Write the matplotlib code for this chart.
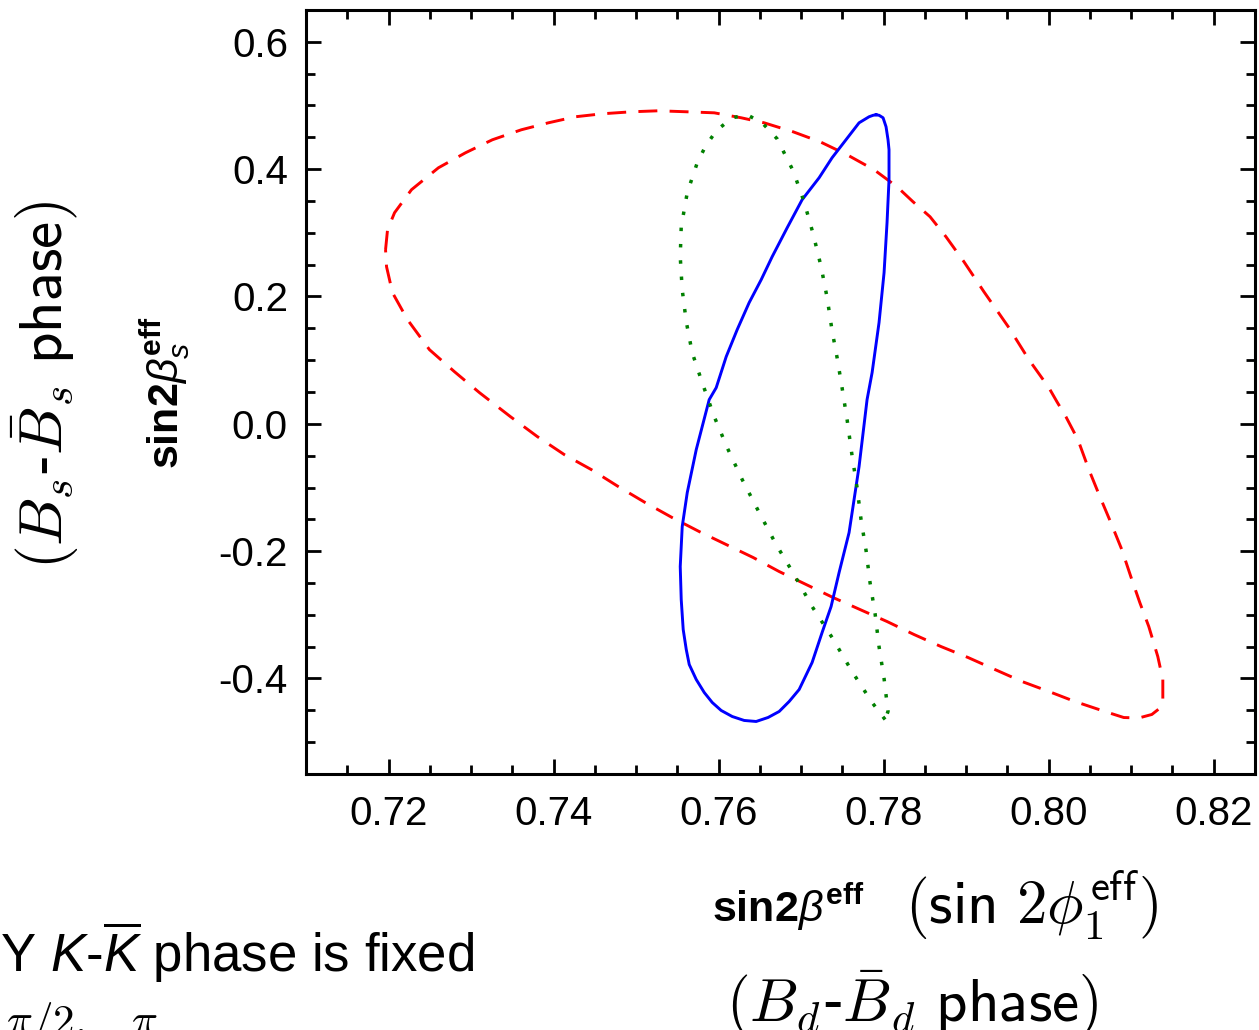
import matplotlib
matplotlib.use("Agg")
import matplotlib.pyplot as plt
from matplotlib.ticker import MultipleLocator, FormatStrFormatter

plt.rcParams['font.family'] = ['Liberation Sans', 'DejaVu Sans']
plt.rcParams['mathtext.fontset'] = 'custom'
plt.rcParams['mathtext.rm'] = 'Liberation Sans'
plt.rcParams['mathtext.it'] = 'Liberation Sans:italic'
plt.rcParams['mathtext.bf'] = 'Liberation Sans:bold'
plt.rcParams['axes.unicode_minus'] = False

# Dashed curve (red)
red_x = [0.71964, 0.71988, 0.72073, 0.72278, 0.72605, 0.72932, 0.73259, 0.73610,
         0.73937, 0.74264, 0.74591, 0.74942, 0.75269, 0.75620, 0.75947, 0.76274,
         0.76552, 0.76903, 0.77230, 0.77557, 0.77884, 0.78162, 0.78356, 0.78562,
         0.78755, 0.78973, 0.79215, 0.79518, 0.79760, 0.80002, 0.80099, 0.80208,
         0.80354, 0.80487, 0.80620, 0.80753, 0.80886, 0.80995, 0.81104, 0.81213,
         0.81322, 0.81383, 0.81383, 0.81358, 0.81250, 0.81092, 0.80910, 0.80680,
         0.80317, 0.80002,
         0.79676, 0.79349, 0.79022, 0.78695, 0.78368, 0.78041, 0.77714, 0.77387,
         0.77061, 0.76734, 0.76419, 0.76092, 0.75765, 0.75438, 0.75111, 0.74785,
         0.74458, 0.74131, 0.73804, 0.73477, 0.73102, 0.72799, 0.72496, 0.72230,
         0.72048, 0.71976]
red_y = [0.2735, 0.3049, 0.3316, 0.3677, 0.4022, 0.4257, 0.4462, 0.4619,
         0.4728, 0.4823, 0.4870, 0.4901, 0.4917, 0.4901, 0.4885, 0.4807,
         0.4728, 0.4587, 0.4430, 0.4226, 0.3991, 0.3724, 0.3488, 0.3253,
         0.2939, 0.2546, 0.2075, 0.1510, 0.1008, 0.0568, 0.0349, 0.0113,
         -0.0248, -0.0719, -0.1143, -0.1551, -0.1975, -0.2399, -0.2807, -0.3184,
         -0.3655, -0.4016, -0.4330, -0.4455, -0.4565, -0.4620, -0.4613, -0.4518,
         -0.4361, -0.4204,
         -0.4047, -0.3859, -0.3670, -0.3498, -0.3309, -0.3105, -0.2917, -0.2728,
         -0.2524, -0.2320, -0.2100, -0.1896, -0.1692, -0.1473, -0.1237, -0.0986,
         -0.0719, -0.0484, -0.0201, 0.0113, 0.0490, 0.0819, 0.1165, 0.1636,
         0.2060, 0.2468]

# Solid curve (blue)
blue_x = [0.77908, 0.77945, 0.77993, 0.78029, 0.78053, 0.78065, 0.78065, 0.78041,
          0.78005, 0.77944, 0.77860, 0.77799, 0.77702, 0.77581, 0.77460, 0.77363,
          0.77254, 0.77133, 0.76976, 0.76855, 0.76734, 0.76600, 0.76455, 0.76310,
          0.76165, 0.76031, 0.75923, 0.75826, 0.75729, 0.75644, 0.75608, 0.75571,
          0.75547, 0.75535, 0.75559, 0.75620, 0.75729, 0.75886, 0.75971, 0.76092,
          0.76225, 0.76370, 0.76516, 0.76649, 0.76831, 0.77012, 0.77218, 0.77375,
          0.77702, 0.77823, 0.77872]
blue_y = [0.4854, 0.4846, 0.4807, 0.4666, 0.4462, 0.4305, 0.3834, 0.3159,
          0.2374, 0.1589, 0.0804, 0.0380, -0.0672, -0.1708, -0.2336, -0.2870,
          -0.3278, -0.3749, -0.4173, -0.4361, -0.4518, -0.4612, -0.4675, -0.4659,
          -0.4597, -0.4502, -0.4377, -0.4220, -0.4016, -0.3780, -0.3545, -0.3231,
          -0.2760, -0.2242, -0.1614, -0.1080, -0.0405, 0.0380, 0.0568, 0.1055,
          0.1479, 0.1903, 0.2264, 0.2625, 0.3080, 0.3520, 0.3865, 0.4179,
          0.4728, 0.4823, 0.4846]

# Dotted curve (green)
green_x = [0.78017, 0.77860, 0.77617, 0.77375, 0.77133, 0.76915, 0.76697, 0.76492,
           0.76286, 0.76104, 0.75947, 0.75801, 0.75680, 0.75608, 0.75559, 0.75535,
           0.75547, 0.75620, 0.75741, 0.75838, 0.75971, 0.76165, 0.76346, 0.76528,
           0.76709, 0.76903, 0.77036, 0.77145, 0.77242, 0.77315, 0.77375, 0.77436,
           0.77496, 0.77557, 0.77617, 0.77678, 0.77726, 0.77787, 0.77835, 0.77896,
           0.77944, 0.78005, 0.78053]
green_y = [-0.4644, -0.4377, -0.3890, -0.3356, -0.2870, -0.2367, -0.1896, -0.1394,
           -0.0876, -0.0374, 0.0113, 0.0647, 0.1118, 0.1604, 0.2107, 0.2625,
           0.3096, 0.3630, 0.4100, 0.4352, 0.4603, 0.4807, 0.4854, 0.4728,
           0.4477, 0.3975, 0.3488, 0.2986, 0.2468, 0.1981, 0.1463, 0.1039,
           0.0568, 0.0066, -0.0499, -0.1002, -0.1504, -0.1991, -0.2493, -0.2980,
           -0.3498, -0.4000, -0.4518]

x_ticks = [0.72, 0.74, 0.76, 0.78, 0.80, 0.82]
y_ticks = [-0.4, -0.2, 0.0, 0.2, 0.4, 0.6]


def closed(xs, ys):
    return list(xs) + [xs[0]], list(ys) + [ys[0]]


fig = plt.figure(figsize=(12.59, 10.30), dpi=100)
ax = fig.add_axes([306 / 1259, 1 - 774 / 1030, 949 / 1259, 764 / 1030])

rx, ry = closed(red_x, red_y)
ax.plot(rx, ry, color='#ff0000', lw=2.1, dashes=(6.5, 4.2),
        solid_joinstyle='round')
bx, by = closed(blue_x, blue_y)
ax.plot(bx, by, color='#0000ff', lw=2.1, solid_joinstyle='round')
gx, gy = closed(green_x, green_y)
ax.plot(gx, gy, color='#008000', lw=2.5, linestyle=(0, (1, 3.7)))

ax.set_xlim(0.71, 0.825)
ax.set_ylim(-0.55, 0.65)
ax.set_xticks(x_ticks)
ax.set_yticks(y_ticks)
ax.xaxis.set_major_formatter(FormatStrFormatter('%.2f'))
ax.yaxis.set_major_formatter(FormatStrFormatter('%.1f'))
ax.xaxis.set_minor_locator(MultipleLocator(0.005))
ax.yaxis.set_minor_locator(MultipleLocator(0.05))
ax.tick_params(which='both', direction='in', top=True, right=True, width=2.0)
ax.tick_params(which='major', length=11, labelsize=29)
ax.tick_params(axis='x', which='major', pad=15)
ax.tick_params(axis='y', which='major', pad=13)
ax.tick_params(which='minor', length=6.5)
for s in ax.spines.values():
    s.set_linewidth(2.2)

# axis titles
fig.text(45 / 1259, 1 - 385 / 1030,
         r"$(B_s$-$\bar{B}_s\ \mathsf{phase})$",
         rotation=90, ha='center', va='center', fontsize=44,
         math_fontfamily='cm')
fig.text(165 / 1259, 1 - 393 / 1030,
         r"$\mathbf{sin2}\beta_{s}^{\mathbf{eff}}$",
         rotation=90, ha='center', va='center', fontsize=31)

fig.text(712 / 1259, 1 - 922 / 1030,
         r"$\mathbf{sin2}\beta^{\mathbf{eff}}$",
         ha='left', va='baseline', fontsize=31)
fig.text(905 / 1259, 1 - 924 / 1030,
         r"$(\mathsf{sin}\ \mathsf{2}\phi_{\mathsf{1}}^{\mathsf{eff}})$",
         ha='left', va='baseline', fontsize=44, math_fontfamily='cm')
fig.text(912 / 1259, 1 - 1004 / 1030,
         r"$(B_d$-$\bar{B}_d\ \mathsf{phase})$",
         ha='center', va='center', fontsize=44, math_fontfamily='cm')

# note at lower left
fig.text(474 / 1259, 1 - 972 / 1030,
         r"ONLY $K$-$\overline{K}$ phase is fixed",
         ha='right', va='baseline', fontsize=38)
fig.text(158 / 1259, 1 - 1034 / 1030,
         r"$0,\ \pi/2,\quad\pi$",
         ha='right', va='baseline', fontsize=31, math_fontfamily='cm')

fig.savefig('out.png', dpi=100)
